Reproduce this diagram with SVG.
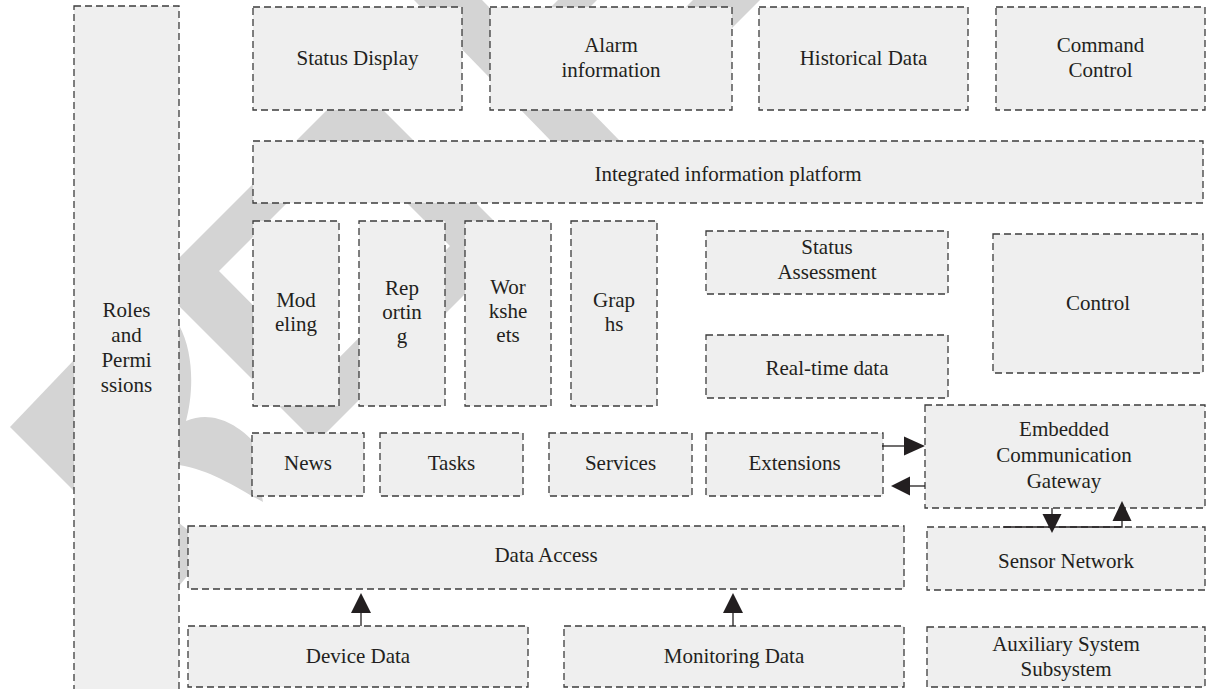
<svg xmlns="http://www.w3.org/2000/svg" width="1207" height="689" viewBox="0 0 1207 689">
<defs>
<style>
.bx{fill:#efefef;stroke:#3c3c3c;stroke-width:1.3;stroke-dasharray:7 4}
.t{font-family:"Liberation Serif","Times New Roman",serif;font-size:21px;fill:#231f20;text-anchor:middle}
.wm{fill:#d4d4d4;stroke:none}
.ln{stroke:#231f20;stroke-width:1.3;fill:none}
.ah{fill:#231f20;stroke:none}
</style>
</defs>
<rect width="1207" height="689" fill="#ffffff"/>
<g id="watermark">
<path class="wm" fill-rule="evenodd" d="M355,82 L516,243 L316,443 L155,282 Z M347,143 L450,246 L322,375 L219,271 Z"/>
<path class="wm" d="M179,325 C195,355 193,395 186,421 C212,410 236,424 252,440 L263,502 C240,490 212,470 179,465 Z"/>
<polygon class="wm" points="74,360 10,427 74,491"/>
<polygon class="wm" points="179,523 188,530 188,575 179,586"/>
<polygon class="wm" points="414,0 482,0 620,141 551,141"/>
<polygon class="wm" points="693,0 760,0 680,80 613,80"/>
<polygon class="wm" points="558,0 597,0 560,37 521,37"/>
</g>
<g id="roles"><rect class="bx" x="74" y="6" width="105" height="700"/><text class="t" x="126.5" y="317">Roles</text><text class="t" x="126.5" y="342">and</text><text class="t" x="126.5" y="367">Permi</text><text class="t" x="126.5" y="392">ssions</text></g>
<g id="status-display"><rect class="bx" x="253" y="7" width="209" height="103"/><text class="t" x="357.5" y="65">Status Display</text></g>
<g id="alarm"><rect class="bx" x="490" y="7" width="242" height="103"/><text class="t" x="611" y="52">Alarm</text><text class="t" x="611" y="77">information</text></g>
<g id="historical"><rect class="bx" x="759" y="7" width="209" height="103"/><text class="t" x="863.5" y="65">Historical Data</text></g>
<g id="command"><rect class="bx" x="996" y="7" width="209" height="103"/><text class="t" x="1100.5" y="52">Command</text><text class="t" x="1100.5" y="77">Control</text></g>
<g id="integrated"><rect class="bx" x="253" y="141" width="950" height="62"/><text class="t" x="728" y="181">Integrated information platform</text></g>
<g id="modeling"><rect class="bx" x="253" y="221" width="86" height="185"/><text class="t" x="296" y="307">Mod</text><text class="t" x="296" y="331">eling</text></g>
<g id="reporting"><rect class="bx" x="359" y="221" width="86" height="185"/><text class="t" x="402" y="295">Rep</text><text class="t" x="402" y="319">ortin</text><text class="t" x="402" y="343">g</text></g>
<g id="worksheets"><rect class="bx" x="465" y="221" width="86" height="185"/><text class="t" x="508" y="294">Wor</text><text class="t" x="508" y="318">kshe</text><text class="t" x="508" y="342">ets</text></g>
<g id="graphs"><rect class="bx" x="571" y="221" width="86" height="185"/><text class="t" x="614" y="307">Grap</text><text class="t" x="614" y="331">hs</text></g>
<g id="status-assessment"><rect class="bx" x="706" y="231" width="242" height="63"/><text class="t" x="827" y="254">Status</text><text class="t" x="827" y="279">Assessment</text></g>
<g id="realtime"><rect class="bx" x="706" y="335" width="242" height="63"/><text class="t" x="827" y="375">Real-time data</text></g>
<g id="control"><rect class="bx" x="993" y="234" width="210" height="139"/><text class="t" x="1098" y="310">Control</text></g>
<g id="news"><rect class="bx" x="252" y="433" width="112" height="63"/><text class="t" x="308" y="470">News</text></g>
<g id="tasks"><rect class="bx" x="380" y="433" width="143" height="63"/><text class="t" x="451.5" y="470">Tasks</text></g>
<g id="services"><rect class="bx" x="549" y="433" width="143" height="63"/><text class="t" x="620.5" y="470">Services</text></g>
<g id="extensions"><rect class="bx" x="706" y="433" width="177" height="63"/><text class="t" x="794.5" y="470">Extensions</text></g>
<g id="gateway"><rect class="bx" x="925" y="405" width="280" height="103"/><text class="t" x="1064" y="436">Embedded</text><text class="t" x="1064" y="462">Communication</text><text class="t" x="1064" y="488">Gateway</text></g>
<g id="data-access"><rect class="bx" x="188" y="526" width="716" height="63"/><text class="t" x="546" y="562">Data Access</text></g>
<g id="sensor"><rect class="bx" x="927" y="527" width="278" height="63"/><text class="t" x="1066" y="568">Sensor Network</text></g>
<g id="device"><rect class="bx" x="188" y="626" width="340" height="61"/><text class="t" x="358" y="663">Device Data</text></g>
<g id="monitoring"><rect class="bx" x="564" y="626" width="340" height="61"/><text class="t" x="734" y="663">Monitoring Data</text></g>
<g id="auxiliary"><rect class="bx" x="927" y="627" width="278" height="60"/><text class="t" x="1066" y="651">Auxiliary System</text><text class="t" x="1066" y="676">Subsystem</text></g>
<g id="connectors">
<line class="ln" x1="361" y1="626" x2="361" y2="612"/><polygon class="ah" points="351,613 371,613 361,593"/>
<line class="ln" x1="733" y1="626" x2="733" y2="612"/><polygon class="ah" points="723,613 743,613 733,593"/>
<line class="ln" x1="882" y1="446" x2="905" y2="446"/><polygon class="ah" points="904,436.5 904,455.5 925,446"/>
<line class="ln" x1="925" y1="486" x2="909" y2="486"/><polygon class="ah" points="910,476.5 910,495.5 891,486"/>
<line class="ln" x1="1052" y1="508" x2="1052" y2="515"/><polygon class="ah" points="1042.5,514 1061.5,514 1052,533"/>
<polyline class="ln" points="1003,527 1122,527 1122,520"/><polygon class="ah" points="1112.5,521 1131.5,521 1122,501"/>
</g>
</svg>
